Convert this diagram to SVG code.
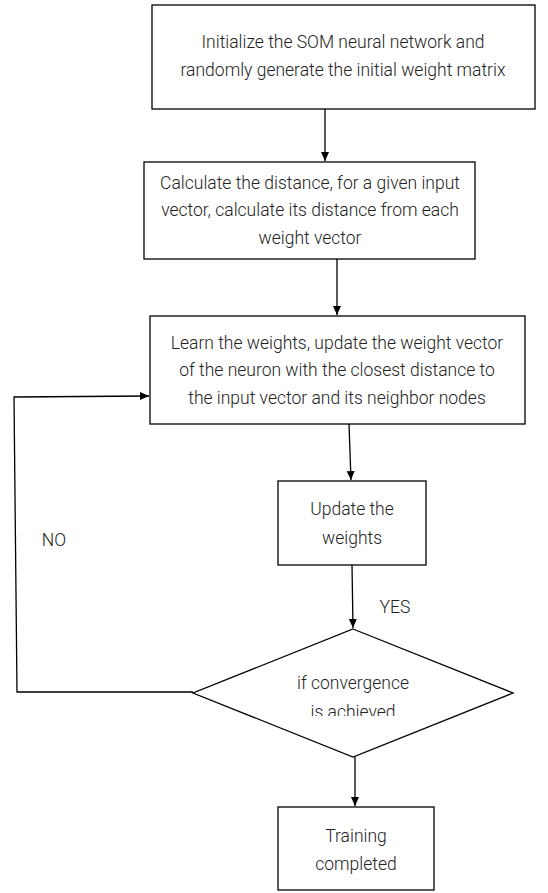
<svg xmlns="http://www.w3.org/2000/svg" width="548" height="893" viewBox="0 0 548 893">
<style>
.box{fill:#fff;stroke:#000;stroke-width:1.3}
.t{font-family:Roboto,"Liberation Sans",Arial,sans-serif;font-size:17.5px;font-weight:300;fill:#222;text-anchor:middle;dominant-baseline:central}
.c{fill:none;stroke:#000;stroke-width:1.3}
</style>
<defs>
<marker id="ah" markerWidth="10" markerHeight="10" refX="9" refY="5" orient="auto" markerUnits="userSpaceOnUse">
<path d="M0,1 L9,5 L0,9 Z" fill="#000"/>
</marker>
<clipPath id="dclip"><rect x="150" y="620" width="400" height="96"/></clipPath>
</defs>
<rect width="548" height="893" fill="#fff"/>
<g id="connectors">
<line class="c" x1="325" y1="109" x2="325" y2="161" marker-end="url(#ah)"/>
<line class="c" x1="337" y1="259" x2="337" y2="315" marker-end="url(#ah)"/>
<line class="c" x1="349" y1="424" x2="351" y2="480" marker-end="url(#ah)"/>
<line class="c" x1="352" y1="565" x2="353" y2="628" marker-end="url(#ah)"/>
<line class="c" x1="355" y1="757" x2="355" y2="806" marker-end="url(#ah)"/>
<polyline class="c" points="193,692 17,692 14,397 149,396" marker-end="url(#ah)"/>
<text class="t" x="395" y="607">YES</text>
<text class="t" x="54" y="540">NO</text>
</g>
<g id="n1">
<rect class="box" x="152" y="5" width="383" height="104"/>
<text class="t" x="343" y="42">Initialize the SOM neural network and</text>
<text class="t" x="343" y="70">randomly generate the initial weight matrix</text>
</g>
<g id="n2">
<rect class="box" x="144" y="162" width="331" height="97"/>
<text class="t" x="310" y="183">Calculate the distance, for a given input</text>
<text class="t" x="310" y="210">vector, calculate its distance from each</text>
<text class="t" x="310" y="238">weight vector</text>
</g>
<g id="n3">
<rect class="box" x="150" y="316" width="375" height="108"/>
<text class="t" x="337" y="343">Learn the weights, update the weight vector</text>
<text class="t" x="337" y="370">of the neuron with the closest distance to</text>
<text class="t" x="337" y="398">the input vector and its neighbor nodes</text>
</g>
<g id="n4">
<rect class="box" x="278" y="481" width="148" height="84"/>
<text class="t" x="352" y="509">Update the</text>
<text class="t" x="352" y="538">weights</text>
</g>
<g id="n5">
<polygon class="box" points="353,629 513,693 353,757 193,693"/>
<text class="t" x="353" y="683">if convergence</text>
<g clip-path="url(#dclip)"><text class="t" x="353" y="712">is achieved</text></g>
</g>
<g id="n6">
<rect class="box" x="278" y="807" width="156" height="83"/>
<text class="t" x="356" y="836">Training</text>
<text class="t" x="356" y="864">completed</text>
</g>
</svg>
